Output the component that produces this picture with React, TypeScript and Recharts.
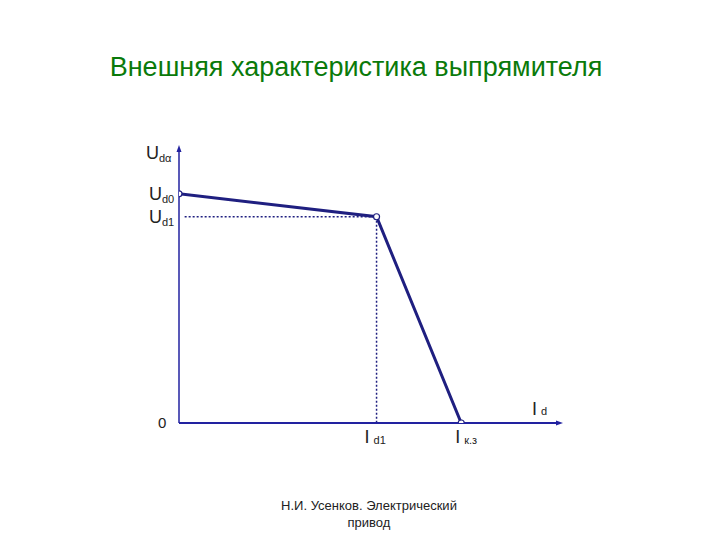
import React from "react";
import { LineChart, Line, XAxis, YAxis, ReferenceLine, ReferenceDot } from "recharts";

// Values (arbitrary units)
const curveX = [0, 70, 100];
const curveY = [100, 90, 0];
const xTicks = [70, 100];
const xTickMain = ["I", "I"];
const xTickSub = ["d1", "к.з"];
const yTicks = [0, 90, 100];
const yTickMain = ["0", "U", "U"];
const yTickSub = ["", "d1", "d0"];
const X_MAX = 135;
const Y_MAX = 120;
const ID1 = 70;
const UD1 = 90;

const data = curveX.map((x, i) => ({ x, y: curveY[i] }));

const AXIS = "#2222a0";
const CURVE = "#1f1f80";
const TEXT = "#222";
const FONT = "'Liberation Sans', Arial, sans-serif";

const YTick = (props: any) => {
  const { x, y, payload } = props;
  const i = yTicks.indexOf(payload.value);
  if (i === 0) {
    return (
      <text x={x - 21} y={y + 5} fontSize={15} fill={TEXT} fontFamily={FONT}>
        {yTickMain[i]}
      </text>
    );
  }
  return (
    <text x={x - 30} y={y + 6} fontSize={18} fill={TEXT} fontFamily={FONT}>
      {yTickMain[i]}
      <tspan fontSize={11} dy={3}>{yTickSub[i]}</tspan>
    </text>
  );
};

const xDx = [-12, -6];
const XTick = (props: any) => {
  const { x, y, payload } = props;
  const i = xTicks.indexOf(payload.value);
  return (
    <text x={x + xDx[i]} y={y + 20} fontSize={18} fill={TEXT} fontFamily={FONT}>
      {xTickMain[i]}
      <tspan fontSize={11} dx={4} dy={1}>{xTickSub[i]}</tspan>
    </text>
  );
};

const HollowDot = (props: any) => {
  const { cx, cy, index } = props;
  return <circle key={index} cx={cx} cy={cy} r={3} fill="#fff" stroke={CURVE} strokeWidth={1.2} />;
};

const ArrowRight = (props: any) => {
  const { cx, cy } = props;
  return <polygon points={`${cx + 3},${cy} ${cx - 4},${cy - 2.5} ${cx - 4},${cy + 2.5}`} fill={AXIS} />;
};
const ArrowUp = (props: any) => {
  const { cx, cy } = props;
  return <polygon points={`${cx},${cy - 3} ${cx - 2.5},${cy + 4} ${cx + 2.5},${cy + 4}`} fill={AXIS} />;
};

const YLabel = (props: any) => {
  const vb = props.viewBox || {};
  return (
    <text x={vb.x + vb.width - 33} y={vb.y + 11} fontSize={18} fill={TEXT} fontFamily={FONT}>
      U<tspan fontSize={11} dy={3}>dα</tspan>
    </text>
  );
};
const XLabel = (props: any) => {
  const vb = props.viewBox || {};
  return (
    <text x={vb.x + vb.width - 28} y={vb.y - 8} fontSize={18} fill={TEXT} fontFamily={FONT}>
      I<tspan fontSize={11} dx={4}>d</tspan>
    </text>
  );
};

export default function App() {
  return (
    <div style={{ position: "absolute", left: 0, top: 0, width: 720, height: 540, background: "#fff" }}>
      <div
        style={{
          position: "absolute",
          left: -4,
          top: 52,
          width: 720,
          textAlign: "center",
          fontFamily: FONT,
          fontSize: 27,
          color: "#0a7a0a",
        }}
      >
        Внешняя характеристика выпрямителя
      </div>
      <LineChart width={720} height={540} data={data} margin={{ top: 148, right: 160, bottom: 116, left: 178 }}>
        <XAxis
          type="number"
          dataKey="x"
          domain={[0, X_MAX]}
          ticks={xTicks}
          interval={0}
          height={1}
          tickLine={false}
          tickSize={0}
          tickMargin={0}
          axisLine={{ stroke: AXIS, strokeWidth: 2 }}
          tick={<XTick />}
          label={<XLabel />}
          allowDataOverflow
        />
        <YAxis
          type="number"
          dataKey="y"
          domain={[0, Y_MAX]}
          ticks={yTicks}
          interval={0}
          width={1}
          tickLine={false}
          tickSize={0}
          tickMargin={0}
          axisLine={{ stroke: AXIS, strokeWidth: 1.5 }}
          tick={<YTick />}
          label={<YLabel />}
          allowDataOverflow
        />
        <ReferenceLine
          segment={[{ x: 2, y: UD1 }, { x: ID1, y: UD1 }]}
          stroke={CURVE}
          strokeWidth={1.5}
          strokeDasharray="2 2"
          ifOverflow="visible"
        />
        <ReferenceLine
          segment={[{ x: ID1, y: UD1 }, { x: ID1, y: 0 }]}
          stroke={CURVE}
          strokeWidth={1.5}
          strokeDasharray="2 2"
          ifOverflow="visible"
        />
        <ReferenceDot x={X_MAX} y={0} ifOverflow="visible" shape={<ArrowRight />} />
        <ReferenceDot x={0} y={Y_MAX} ifOverflow="visible" shape={<ArrowUp />} />
        <Line
          type="linear"
          dataKey="y"
          stroke={CURVE}
          strokeWidth={3}
          dot={<HollowDot />}
          activeDot={false}
          isAnimationActive={false}
        />
      </LineChart>
      <div
        style={{
          position: "absolute",
          left: 9,
          top: 497,
          width: 720,
          textAlign: "center",
          fontFamily: FONT,
          fontSize: 13,
          lineHeight: "17px",
          color: "#222",
        }}
      >
        Н.И. Усенков. Электрический
        <br />
        привод
      </div>
    </div>
  );
}
